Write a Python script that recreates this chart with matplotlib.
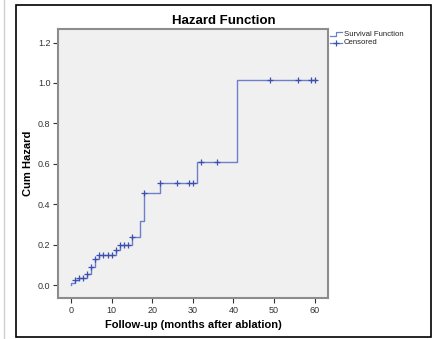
import matplotlib
matplotlib.use("Agg")
import matplotlib.pyplot as plt
from matplotlib.lines import Line2D
from matplotlib.patches import Rectangle

plt.rcParams['font.family'] = ['Liberation Sans', 'DejaVu Sans']

# step function: event times and cumulative hazard after each event
event_t = [0, 1, 2, 4, 5, 6, 7, 11, 12, 15, 17, 18, 22, 31, 41]
cum_haz = [0.012, 0.024, 0.036, 0.053, 0.088, 0.128, 0.148, 0.175, 0.200,
           0.240, 0.318, 0.454, 0.506, 0.610, 1.015]
end_t = 60.3

# censored observations
cens_t = [1, 2, 3, 4, 5, 6, 7, 8, 9, 10, 11, 12, 13, 14, 15, 18, 22, 26,
          29, 30, 32, 36, 49, 56, 59, 60]
cens_h = [0.024, 0.036, 0.036, 0.053, 0.088, 0.128, 0.148, 0.148, 0.148,
          0.148, 0.175, 0.200, 0.200, 0.200, 0.240, 0.454, 0.506, 0.506,
          0.506, 0.506, 0.610, 0.610, 1.015, 1.015, 1.015, 1.015]

xticks = [0, 10, 20, 30, 40, 50, 60]
yticks = [0.0, 0.2, 0.4, 0.6, 0.8, 1.0, 1.2]

line_col = '#6f7fcc'
mark_col = '#3a4fb0'

W, H = 432, 339
fig = plt.figure(figsize=(W / 100, H / 100), dpi=100)

# outer frame like the SPSS output
fig.patches.append(Rectangle((16 / W, 2 / H), (W - 17) / W, (H - 7) / H,
                             transform=fig.transFigure, fill=False,
                             edgecolor='black', linewidth=1.2))
fig.add_artist(Line2D([3.5 / W, 3.5 / W], [0, 1], color='#d0d0d0', lw=1))

ax = fig.add_axes([58 / W, 1 - 298 / H, 270 / W, 269 / H])
ax.set_facecolor('#f0f0f0')

xs = [0] + event_t + [end_t]
ys = [0] + cum_haz + [cum_haz[-1]]
ax.plot(xs, ys, drawstyle='steps-post', color=line_col, lw=1.0)
ax.plot(cens_t, cens_h, linestyle='none', marker='+', color=mark_col,
        markersize=4.5, markeredgewidth=0.9)

ax.set_xlim(-3.2, 63.3)
ax.set_ylim(-0.064, 1.267)
ax.set_xticks(xticks)
ax.set_yticks(yticks)
ax.set_yticklabels(['%.1f' % v for v in yticks])
ax.tick_params(labelsize=6.5, length=3.5, width=0.8, colors='#333333', pad=2)
for s in ax.spines.values():
    s.set_color('#8c8c8c')
    s.set_linewidth(1.5)

ax.set_xlabel('Follow-up (months after ablation)', fontsize=8, fontweight='bold')
ax.set_ylabel('Cum Hazard', fontsize=8, fontweight='bold')
ax.xaxis.set_label_coords(0.5, -(320.5 - 298) / 269)
ax.yaxis.set_label_coords(-(58 - 32.5) / 270, 0.5)
fig.text(224 / W, 1 - 20.5 / H, 'Hazard Function', ha='center', va='center',
         fontsize=9.5, fontweight='bold')

# legend drawn at the right of the plot
def fx(p):
    return p / W

def fy(p):
    return 1 - p / H

fig.add_artist(Line2D([fx(330), fx(336), fx(336), fx(342)],
                      [fy(36), fy(36), fy(31.5), fy(31.5)], color=line_col, lw=0.9))
fig.text(fx(343.5), fy(34), 'Survival Function', fontsize=5.6, va='center', color='#222222')
fig.add_artist(Line2D([fx(330), fx(342)], [fy(42.5), fy(42.5)], color=line_col, lw=0.9))
fig.add_artist(Line2D([fx(336)], [fy(42.5)], marker='+', color=mark_col,
                      markersize=5, markeredgewidth=0.9, linestyle='none'))
fig.text(fx(343.5), fy(42.5), 'Censored', fontsize=5.6, va='center', color='#222222')

fig.savefig('out.png', dpi=100)
